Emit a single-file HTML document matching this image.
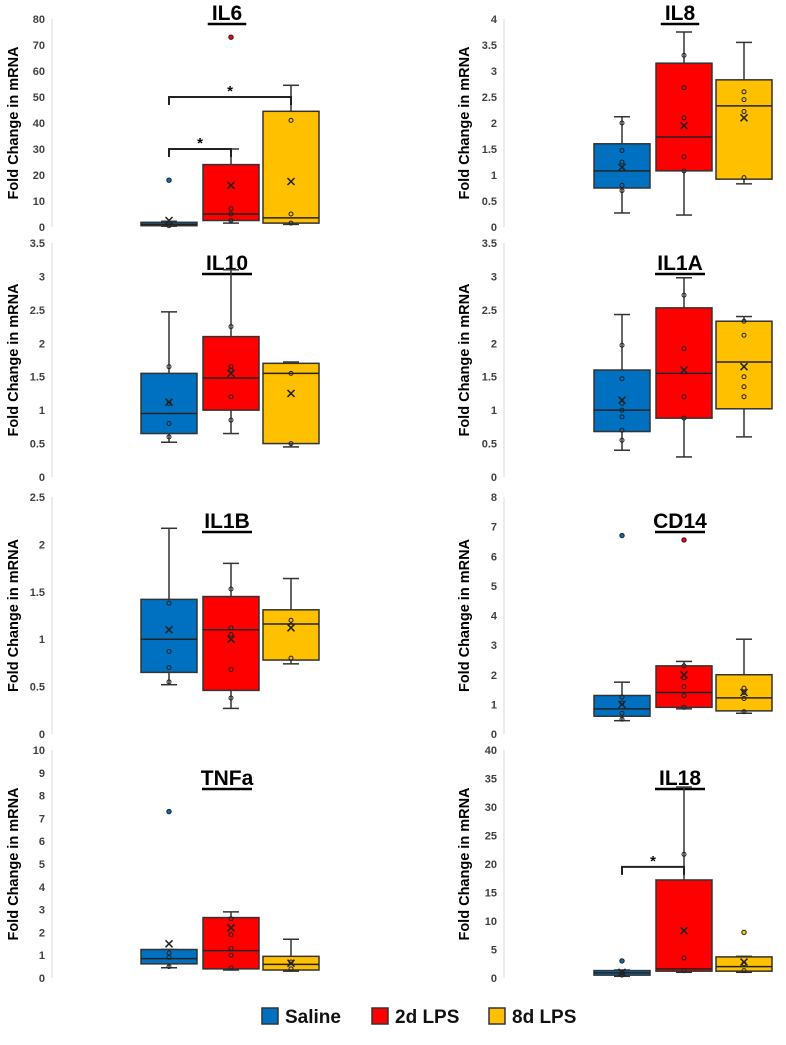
<!DOCTYPE html>
<html><head><meta charset="utf-8"><style>
body{margin:0;background:#fff;width:786px;height:1040px;overflow:hidden;font-family:"Liberation Sans",sans-serif}
</style></head><body>
<svg id="c" width="786" height="1040" xmlns="http://www.w3.org/2000/svg"></svg>
<script>
const groups = ["Saline","2d LPS","8d LPS"];
const colors = ["#0070c0","#ff0000","#ffc000"];
const panelNames = ["IL6","IL8","IL10","IL1A","IL1B","CD14","TNFa","IL18"];
const panelMax = [80,4,3.5,3.5,2.5,8,10,40];
const panelStep = [10,0.5,0.5,0.5,0.5,1,1,5];
// [min,q1,median,q3,max] per group
const IL6_box = [[0.3,0.5,1,1.8,2.2],[1.5,2.5,5,24,30],[1,1.5,3.5,44.5,54.5]];
const IL8_box = [[0.27,0.75,1.08,1.6,2.12],[0.23,1.08,1.73,3.15,3.75],[0.83,0.92,2.33,2.83,3.55]];
const IL10_box = [[0.52,0.65,0.95,1.55,2.47],[0.65,1.0,1.48,2.1,3.1],[0.45,0.5,1.55,1.7,1.72]];
const IL1A_box = [[0.4,0.68,1.0,1.6,2.43],[0.3,0.88,1.55,2.53,2.98],[0.6,1.02,1.72,2.33,2.4]];
const IL1B_box = [[0.52,0.65,1.0,1.42,2.17],[0.27,0.46,1.1,1.45,1.8],[0.74,0.78,1.16,1.31,1.64]];
const CD14_box = [[0.45,0.6,0.85,1.3,1.75],[0.85,0.9,1.4,2.3,2.45],[0.7,0.78,1.22,2.0,3.2]];
const TNFa_box = [[0.45,0.62,0.85,1.25,1.25],[0.35,0.4,1.2,2.65,2.9],[0.3,0.35,0.6,0.95,1.7]];
const IL18_box = [[0.3,0.5,0.9,1.3,1.4],[1,1.2,1.6,17.2,33.5],[1,1.2,2,3.7,3.8]];
const boxes = [IL6_box,IL8_box,IL10_box,IL1A_box,IL1B_box,CD14_box,TNFa_box,IL18_box];
const means = [[2.5,16,17.5],[1.15,1.95,2.1],[1.12,1.55,1.25],[1.15,1.6,1.65],[1.1,1.0,1.12],[1.0,2.0,1.4],[1.5,2.2,0.65],[1.0,8.3,2.8]];
const points = [
 [[0.5],[2.5,5,7],[1.5,5,41]],
 [[0.7,0.8,1.25,1.47,2.0],[1.08,1.35,2.1,2.68,3.3],[0.95,2.22,2.45,2.6]],
 [[0.6,0.8,1.1,1.65],[0.85,1.2,1.6,1.65,2.25],[0.5,1.55]],
 [[0.55,0.7,0.9,1.0,1.1,1.47,1.97],[0.88,1.2,1.92,2.72],[1.2,1.35,1.5,2.12,2.33]],
 [[0.55,0.7,0.87,1.38],[0.38,0.68,1.05,1.12,1.53],[0.8,1.15,1.2]],
 [[0.5,0.7,1.05,1.25],[0.9,1.3,1.6,1.9,2.3],[0.75,1.2,1.4,1.55]],
 [[0.5,0.9,1.1],[0.45,1.0,1.3,1.9,2.6],[0.4,0.7]],
 [[0.5,1.0],[1.3,3.5,21.7],[1.3,2.5]]
];
const outliers = [[[18],[73],[]],[[],[],[]],[[],[],[]],[[],[],[]],[[],[],[]],[[6.7],[6.55],[]],[[7.3],[],[]],[[3],[],[8]]];
// significance brackets: [panel, groupA, groupB, yValue]
const sigs = [[0,0,1,30],[0,0,2,50],[7,0,1,19.5]];

const svg=document.getElementById('c');
const NS="http://www.w3.org/2000/svg";
function mk(t,a,p){const e=document.createElementNS(NS,t);for(const k in a)e.setAttribute(k,a[k]);(p||svg).appendChild(e);return e;}
const rowTop=[19,243,497,750], rowBot=[227,477,734,978];
const titleY=[20,270,528,785];
const colAxis=[52,504], colBox=[141,594], colTitle=[227,680], colYT=[14,465];
const gap=[0,62,122]; const bw=56;
panelNames.forEach((name,pi)=>{
  const r=Math.floor(pi/2), c=pi%2;
  const g=mk('g',{});
  
  
  const y0=rowBot[r], y1=rowTop[r], mx=panelMax[pi];
  const Y=v=>y0-(v/mx)*(y0-y1);
  const X=gi=>colBox[c]+gap[gi];
  const ax=mk('line',{x1:colAxis[c],x2:colAxis[c],y1:y1,y2:y0,stroke:'#d9d9d9','stroke-width':1},g);
  
  const n=Math.round(mx/panelStep[pi]);
  for(let i=0;i<=n;i++){const v=i*panelStep[pi];
    const t=mk('text',{x:colAxis[c]-7,y:Y(v)+4,'text-anchor':'end','font-size':11,'font-weight':'bold',fill:'#404040'},g);
    t.textContent=+v.toFixed(1);
    }
  const yc=(y0+y1)/2;
  const yt=mk('text',{x:colYT[c],y:yc,transform:`rotate(-90 ${colYT[c]} ${yc})`,'text-anchor':'middle','dominant-baseline':'central','font-size':14.5,'font-weight':'bold',fill:'#000'},g);
  yt.textContent='Fold Change in mRNA';
  
  const ty=titleY[r];
  const tt=mk('text',{x:colTitle[c],y:ty,'text-anchor':'middle','font-size':21,'font-weight':'bold',fill:'#000'},g);
  tt.textContent=name;
  
  const tw=name.length*11.5+4;
  mk('line',{x1:colTitle[c]-tw/2,x2:colTitle[c]+tw/2,y1:ty+4,y2:ty+4,stroke:'#000','stroke-width':2.5},g);
  boxes[pi].forEach((b,gi)=>{
    const x=X(gi), cx=x+bw/2;
    const bg=mk('g',{},g);
    
    
    mk('line',{x1:cx,x2:cx,y1:Y(b[4]),y2:Y(b[3]),stroke:'#333','stroke-width':1.5},bg);
    mk('line',{x1:cx,x2:cx,y1:Y(b[1]),y2:Y(b[0]),stroke:'#333','stroke-width':1.5},bg);
    mk('line',{x1:cx-8,x2:cx+8,y1:Y(b[4]),y2:Y(b[4]),stroke:'#333','stroke-width':1.5},bg);
    mk('line',{x1:cx-8,x2:cx+8,y1:Y(b[0]),y2:Y(b[0]),stroke:'#333','stroke-width':1.5},bg);
    mk('rect',{x:x,y:Y(b[3]),width:bw,height:Math.max(Y(b[1])-Y(b[3]),1.5),fill:colors[gi],stroke:'#333','stroke-width':1.5},bg);
    mk('line',{x1:x,x2:x+bw,y1:Y(b[2]),y2:Y(b[2]),stroke:'#222','stroke-width':1.5},bg);
    points[pi][gi].forEach(v=>mk('circle',{cx:cx,cy:Y(v),r:2,fill:'none',stroke:'#222','stroke-width':1},bg));
    outliers[pi][gi].forEach(v=>mk('circle',{cx:cx,cy:Y(v),r:2.2,fill:colors[gi],stroke:'#222','stroke-width':1},bg));
    const m=Y(means[pi][gi]);
    mk('path',{d:`M${cx-3.5} ${m-3.5}L${cx+3.5} ${m+3.5}M${cx+3.5} ${m-3.5}L${cx-3.5} ${m+3.5}`,stroke:'#222','stroke-width':1.5,fill:'none'},bg);
  });
  sigs.filter(s=>s[0]===pi).forEach(s=>{
    const xa=X(s[1])+bw/2, xb=X(s[2])+bw/2, yy=Y(s[3]);
    const sg=mk('g',{},g);
    
    mk('path',{d:`M${xa} ${yy+8}V${yy}H${xb}V${yy+8}`,stroke:'#222','stroke-width':2,fill:'none'},sg);
    const st=mk('text',{x:(xa+xb)/2,y:yy-1,'text-anchor':'middle','font-size':15,'font-weight':'bold'},sg);
    st.textContent='*';
  });
});
const lx=[262,372,489];
groups.forEach((gname,i)=>{
  const lg=mk('g',{});
  
  mk('rect',{x:lx[i],y:1008,width:16,height:16,fill:colors[i],stroke:'#333','stroke-width':1.5},lg);
  const t=mk('text',{x:lx[i]+23,y:1023,'font-size':19,'font-weight':'bold',fill:'#111'},lg);
  t.textContent=gname;
});
</script>
</body></html>
